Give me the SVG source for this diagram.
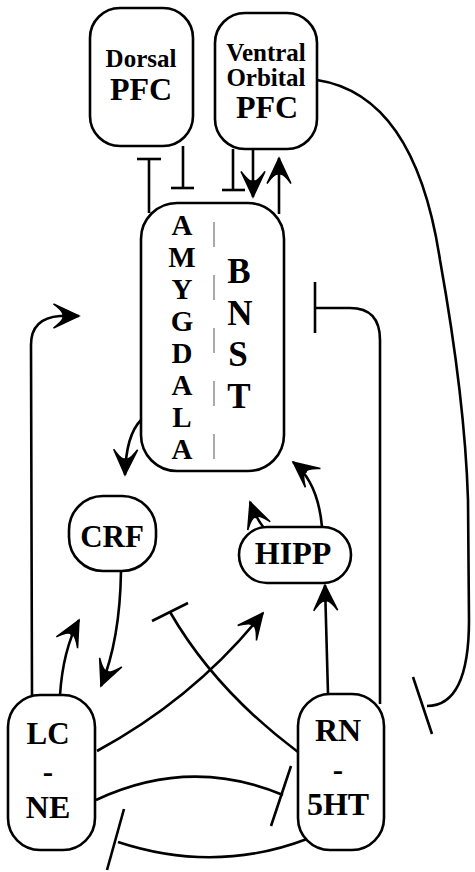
<svg xmlns="http://www.w3.org/2000/svg" width="475" height="872" viewBox="0 0 475 872">
<style>
.box{fill:#fff;stroke:#000;stroke-width:2.6}
.t{font-family:"Liberation Serif","Times New Roman",serif;font-weight:bold;fill:#000;text-anchor:middle}
.c{fill:none;stroke:#000;stroke-width:2.6}
.bar{stroke:#000;stroke-width:2.6}
.dash{stroke:#555;stroke-width:1;stroke-dasharray:25 28}
</style>
<defs>
<marker id="arr" markerUnits="userSpaceOnUse" markerWidth="30" markerHeight="30" refX="0" refY="0" viewBox="-18 -10 20 20" orient="auto" overflow="visible">
<path d="M0,0 L-17,-8 Q-9,-2 -11,0 Q-9,2 -17,8 Z" fill="#000" stroke="#000" stroke-width="1"/>
</marker>
</defs>
<g id="connectors">
<line class="c" x1="149" y1="159" x2="149" y2="213"/>
<line class="bar" x1="137" y1="159" x2="161" y2="159"/>
<line class="c" x1="183" y1="146" x2="183" y2="188"/>
<line class="bar" x1="171" y1="188" x2="194" y2="188"/>
<line class="c" x1="233" y1="149" x2="233" y2="190"/>
<line class="bar" x1="222" y1="190" x2="245" y2="190"/>
<line class="c" x1="253" y1="149" x2="253" y2="197" marker-end="url(#arr)"/>
<line class="c" x1="279" y1="214" x2="279" y2="158" marker-end="url(#arr)"/>
<path class="c" d="M317 80 Q415 95 440 260 Q465 400 468 500 L469 620 Q469 706 427 706"/>
<line class="bar" x1="413" y1="677" x2="432" y2="734"/>
<path class="c" d="M380 704 L380 340 Q380 308 350 308 L315 308"/>
<line class="bar" x1="315" y1="282" x2="315" y2="333"/>
<path class="c" d="M32 697 L31 345 Q31 318 60 316 L79 316" marker-end="url(#arr)"/>
<path class="c" d="M141 420 Q126 435 125 475" marker-end="url(#arr)"/>
<path class="c" d="M121 571 Q120 640 101 686" marker-end="url(#arr)"/>
<path class="c" d="M60 695 Q63 650 79 620" marker-end="url(#arr)"/>
<path class="c" d="M322 527 Q318 482 293 462" marker-end="url(#arr)"/>
<path class="c" d="M264 528 Q256 518 250 502" marker-end="url(#arr)"/>
<path class="c" d="M328 694 L325 585" marker-end="url(#arr)"/>
<path class="c" d="M97 751 Q195 698 263 613" marker-end="url(#arr)"/>
<path class="c" d="M298 752 Q215 690 170 612"/>
<line class="bar" x1="152" y1="621" x2="188" y2="603"/>
<path class="c" d="M96 800 Q190 756 283 795"/>
<line class="bar" x1="291" y1="766" x2="271" y2="826"/>
<path class="c" d="M307 839 Q215 874 118 842"/>
<line class="bar" x1="124" y1="809" x2="107" y2="870"/>
</g>
<g id="dorsal-pfc">
<rect class="box" x="90" y="8" width="103" height="138" rx="30"/>
<text class="t" x="141" y="67" font-size="25">Dorsal</text>
<text class="t" x="141" y="100" font-size="32">PFC</text>
</g>
<g id="ventral-orbital-pfc">
<rect class="box" x="215" y="13" width="102" height="136" rx="30"/>
<text class="t" x="266" y="61" font-size="25">Ventral</text>
<text class="t" x="266" y="86" font-size="25">Orbital</text>
<text class="t" x="267" y="118" font-size="32">PFC</text>
</g>
<g id="amygdala-bnst">
<rect class="box" x="141" y="203" width="143" height="268" rx="36"/>
<line class="dash" x1="214" y1="222" x2="214" y2="462"/>
<text class="t" x="182" y="235" font-size="29">A</text>
<text class="t" x="182" y="267" font-size="29">M</text>
<text class="t" x="182" y="299" font-size="29">Y</text>
<text class="t" x="182" y="331" font-size="29">G</text>
<text class="t" x="182" y="363" font-size="29">D</text>
<text class="t" x="182" y="395" font-size="29">A</text>
<text class="t" x="182" y="427" font-size="29">L</text>
<text class="t" x="182" y="459" font-size="29">A</text>
<text class="t" x="239" y="283" font-size="35">B</text>
<text class="t" x="240" y="325" font-size="35">N</text>
<text class="t" x="238" y="366" font-size="35">S</text>
<text class="t" x="239" y="408" font-size="35">T</text>
</g>
<g id="crf">
<rect class="box" x="69" y="496" width="87" height="75" rx="34"/>
<text class="t" x="112" y="547" font-size="31">CRF</text>
</g>
<g id="hipp">
<rect class="box" x="239" y="527" width="112" height="56" rx="28"/>
<text class="t" x="293" y="564" font-size="32">HIPP</text>
</g>
<g id="lc-ne">
<rect class="box" x="8" y="695" width="87" height="155" rx="32"/>
<text class="t" x="48" y="744" font-size="31">LC</text>
<text class="t" x="48" y="782" font-size="31">-</text>
<text class="t" x="48" y="818" font-size="32">NE</text>
</g>
<g id="rn-5ht">
<rect class="box" x="298" y="694" width="86" height="156" rx="32"/>
<text class="t" x="338" y="741" font-size="32">RN</text>
<text class="t" x="338" y="780" font-size="31">-</text>
<text class="t" x="338" y="815" font-size="32">5HT</text>
</g>
</svg>
